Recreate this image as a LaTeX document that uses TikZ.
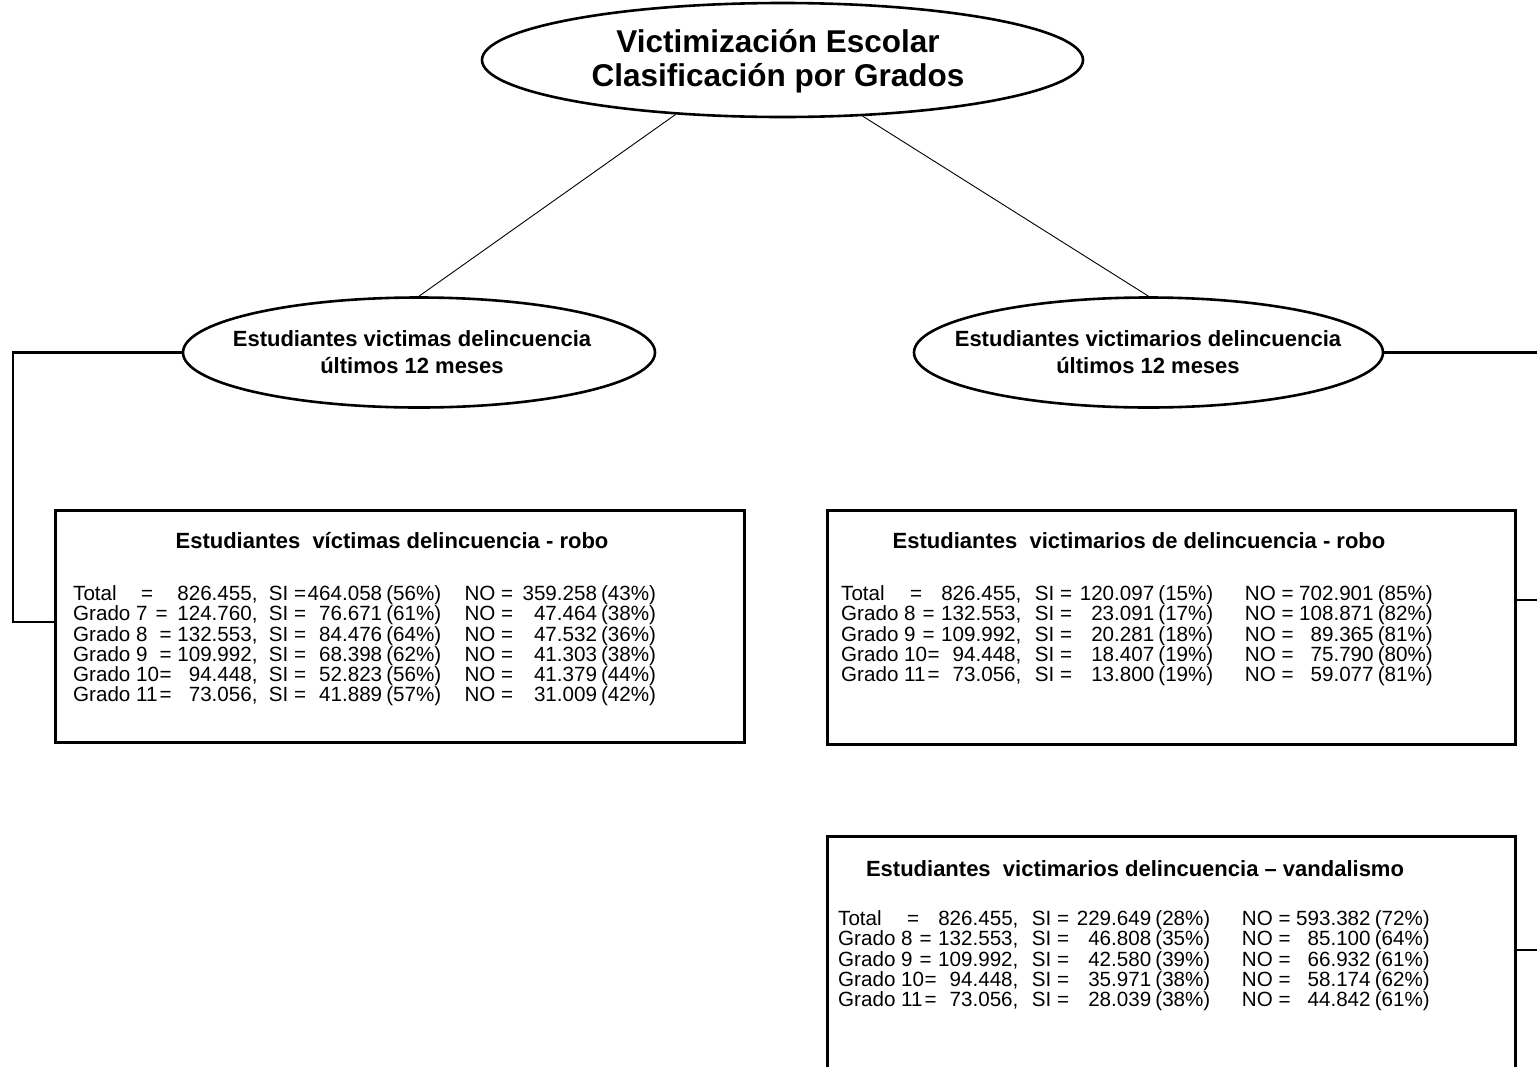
\documentclass[tikz,border=0pt]{standalone}
\usepackage{fontspec}
\setmainfont{Liberation Sans}
\usetikzlibrary{shapes.geometric}

% helpers that place a piece of a data row at a fixed column
\newcommand\putat[2]{\rlap{\kern#1\relax#2}}
\newcommand\putend[2]{\rlap{\kern#1\relax\llap{#2}}}
% column stops of the table in the left box and in the right boxes
\newcommand\colsleft{\def\colNum{8.95em}\def\colSI{9.5em}\def\colSIend{15.0em}\def\colSIpct{15.2em}%
  \def\colNO{19.0em}\def\colNOend{25.43em}\def\colNOpct{25.63em}\def\colW{28.3em}}
\newcommand\colsright{\def\colNum{8.75em}\def\colSI{9.4em}\def\colSIend{15.2em}\def\colSIpct{15.4em}%
  \def\colNO{19.6em}\def\colNOend{25.85em}\def\colNOpct{26.05em}\def\colW{28.72em}}
% one line: grade, position of "=", total, SI, SI %, NO, NO %
\newcommand\datarow[7]{\putat{0em}{#1}\putat{#2}{=}\putend{\colNum}{#3,}%
  \putat{\colSI}{SI =}\putend{\colSIend}{#4}\putat{\colSIpct}{(#5\%)}%
  \putat{\colNO}{NO =}\putend{\colNOend}{#6}\putat{\colNOpct}{(#7\%)}\kern\colW\relax}

\tikzset{
  oval/.style={ellipse, draw, line width=2.6pt, inner sep=0pt},
  ovaltext/.style={font=\bfseries\fontsize{22}{27}\selectfont, align=center, inner sep=0pt},
  titletext/.style={font=\bfseries\fontsize{31.5}{33.5}\selectfont, align=center, inner sep=0pt},
  databox/.style={draw, line width=2.6pt, inner sep=0pt, anchor=north west},
  boxtitle/.style={font=\bfseries\fontsize{22}{22}\selectfont, inner sep=0pt, anchor=base},
  rowL/.style={font=\fontsize{20.6}{20.6}\selectfont, inner sep=0pt, anchor=base west,
    execute at begin node=\colsleft},
  rowR/.style={font=\fontsize{20.6}{20.6}\selectfont, inner sep=0pt, anchor=base west,
    execute at begin node=\colsright},
  thinlink/.style={line width=0.9pt},
  link/.style={line width=2.2pt},
}

\begin{document}
\begin{tikzpicture}[x=1pt,y=-1pt]
\useasboundingbox (0,0) rectangle (1537,1066);
\fill[white] (0,0) rectangle (1537,1066);
\clip (0,0) rectangle (1537,1066);

% ovals
\node[oval, minimum width=601, minimum height=114] (root) at (782.5,60) {};
\node[titletext] (roottext) at (778,61) {Victimización Escolar\\Clasificación por Grados};

\node[oval, minimum width=472, minimum height=110] (victimas) at (419,352.5) {};
\node[ovaltext] (victimastext) at (412,352.5) {Estudiantes victimas delincuencia\\últimos 12 meses};

\node[oval, minimum width=469, minimum height=110] (victimarios) at (1148.5,352.5) {};
\node[ovaltext] (victimariostext) at (1148,352.5) {Estudiantes victimarios delincuencia\\últimos 12 meses};

% boxes
\node[databox, minimum width=689, minimum height=232] (robo1) at (54,509) {};
\node[databox, minimum width=688, minimum height=234] (robo2) at (826,509) {};
\node[databox, minimum width=688, minimum height=270] (vandal) at (826,835) {};

% box titles
\node[boxtitle] (robo1title) at (392,548.9) {Estudiantes~~víctimas delincuencia - robo};
\node[boxtitle] (robo2title) at (1139,548.9) {Estudiantes~~victimarios de delincuencia - robo};
\node[boxtitle] (vandaltitle) at (1135,876.9) {Estudiantes~~victimarios delincuencia – vandalismo};

% rows of the left box
\node[rowL] (l0) at (73,600.4) {\datarow{Total}{3.3em}{826.455}{464.058}{56}{359.258}{43}};
\node[rowL] (l1) at (73,620.7) {\datarow{Grado 7}{4.0em}{124.760}{76.671}{61}{47.464}{38}};
\node[rowL] (l2) at (73,641.0) {\datarow{Grado 8}{4.2em}{132.553}{84.476}{64}{47.532}{36}};
\node[rowL] (l3) at (73,661.3) {\datarow{Grado 9}{4.2em}{109.992}{68.398}{62}{41.303}{38}};
\node[rowL] (l4) at (73,681.6) {\datarow{Grado 10}{4.2em}{94.448}{52.823}{56}{41.379}{44}};
\node[rowL] (l5) at (73,701.9) {\datarow{Grado 11}{4.2em}{73.056}{41.889}{57}{31.009}{42}};

% rows of the robbery box on the right
\node[rowR] (m0) at (841,600.4) {\datarow{Total}{3.35em}{826.455}{120.097}{15}{702.901}{85}};
\node[rowR] (m1) at (841,620.7) {\datarow{Grado 8}{3.95em}{132.553}{23.091}{17}{108.871}{82}};
\node[rowR] (m2) at (841,641.0) {\datarow{Grado 9}{3.95em}{109.992}{20.281}{18}{89.365}{81}};
\node[rowR] (m3) at (841,661.3) {\datarow{Grado 10}{4.2em}{94.448}{18.407}{19}{75.790}{80}};
\node[rowR] (m4) at (841,681.6) {\datarow{Grado 11}{4.2em}{73.056}{13.800}{19}{59.077}{81}};

% rows of the vandalism box
\node[rowR] (v0) at (838,925.4) {\datarow{Total}{3.35em}{826.455}{229.649}{28}{593.382}{72}};
\node[rowR] (v1) at (838,945.7) {\datarow{Grado 8}{3.95em}{132.553}{46.808}{35}{85.100}{64}};
\node[rowR] (v2) at (838,966.0) {\datarow{Grado 9}{3.95em}{109.992}{42.580}{39}{66.932}{61}};
\node[rowR] (v3) at (838,986.3) {\datarow{Grado 10}{4.2em}{94.448}{35.971}{38}{58.174}{62}};
\node[rowR] (v4) at (838,1006.6) {\datarow{Grado 11}{4.2em}{73.056}{28.039}{38}{44.842}{61}};

% connectors
\coordinate (leftbend) at (13,622);
\coordinate (rightedge) at (1545,352.5);
\coordinate (tickA) at (1545,600);
\coordinate (tickB) at (1545,950);

\draw[thinlink] (root.207) -- (victimas.north);
\draw[thinlink] (root.-35) -- (victimarios.north);
\draw[link] (victimas.west) -| (leftbend) -- (leftbend -| robo1.west);
\draw[link] (victimarios.east) -- (rightedge);
\draw[link] (tickA -| robo2.east) -- (tickA);
\draw[link] (tickB -| vandal.east) -- (tickB);
\end{tikzpicture}
\end{document}
